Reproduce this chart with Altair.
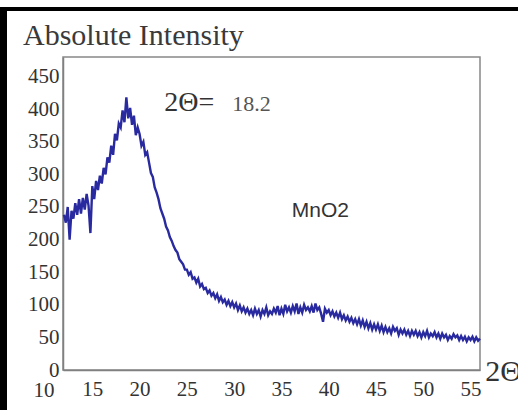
import altair as alt
import numpy as np
import pandas as pd

SERIF = "Liberation Serif"
SANS = "Liberation Sans"

# Diffraction pattern of MnO2, sampled every 0.2 degrees of 2-theta from 12.0 to 56.0
two_theta = np.round(np.arange(12.0, 56.0 + 1e-9, 0.2), 1)
intensity = [
    238, 226, 250, 200, 244,   # 12
    232, 256, 238, 262, 240,   # 13
    264, 246, 270, 252, 210,   # 14
    282, 262, 290, 276, 298,   # 15
    286, 310, 300, 326, 318,   # 16
    344, 330, 362, 352, 378,   # 17
    372, 398, 380, 418, 386,   # 18
    402, 376, 390, 360, 372,   # 19
    362, 344, 350, 330, 334,   # 20
    318, 302, 296, 280, 272,   # 21
    262, 248, 240, 232, 220,   # 22
    214, 204, 198, 190, 184,   # 23
    180, 170, 166, 162, 154,   # 24
    154, 146, 150, 140, 142,   # 25
    134, 140, 128, 132, 124,   # 26
    126, 118, 122, 114, 118,   # 27
    110, 116, 106, 112, 104,   # 28
    108, 100, 106, 98, 104,    # 29
    96, 102, 92, 99, 90,       # 30
    96, 88, 94, 86, 92,        # 31
    84, 94, 86, 92, 82,        # 32
    92, 86, 96, 84, 90,        # 33
    86, 94, 88, 98, 84,        # 34
    94, 86, 100, 90, 96,       # 35
    88, 98, 90, 102, 86,       # 36
    96, 88, 100, 92, 96,       # 37
    90, 98, 88, 102, 92,       # 38
    96, 86, 74, 94, 88,        # 39
    92, 84, 90, 82, 88,        # 40
    80, 88, 78, 84, 76,        # 41
    82, 74, 80, 72, 78,        # 42
    70, 78, 68, 76, 66,        # 43
    74, 64, 72, 62, 70,        # 44
    62, 70, 60, 68, 58,        # 45
    66, 58, 64, 56, 66,        # 46
    60, 64, 54, 62, 56,        # 47
    62, 54, 60, 52, 60,        # 48
    54, 60, 52, 58, 50,        # 49
    58, 52, 60, 50, 56,        # 50
    52, 58, 50, 56, 48,        # 51
    56, 50, 54, 46, 52,        # 52
    48, 55, 50, 53, 46,        # 53
    52, 46, 51, 44, 50,        # 54
    46, 51, 44, 50, 45,        # 55
    48,                        # 56
]

x_ticks = [15, 20, 25, 30, 35, 40, 45, 50, 55]
y_ticks = [0, 50, 100, 150, 200, 250, 300, 350, 400, 450]

pattern = pd.DataFrame({"two_theta": two_theta, "intensity": intensity})

x_scale = alt.Scale(domain=[11.9, 56.0], nice=False, zero=False)
y_scale = alt.Scale(domain=[0, 480], nice=False)

axis_common = dict(
    title=None, grid=False, ticks=False,
    labelFont=SERIF, labelFontSize=21, labelColor="#333333",
    domainColor="#808080", domainWidth=1.5,
    labelFlush=False, labelOverlap=False, labelBound=False,
)
x_axis = alt.Axis(values=x_ticks, labelPadding=8, **axis_common)
y_axis = alt.Axis(values=y_ticks, labelPadding=4, **axis_common)

line = alt.Chart(pattern).mark_line(color="#2a2aa0", strokeWidth=2.4).encode(
    x=alt.X("two_theta:Q", scale=x_scale, axis=x_axis),
    y=alt.Y("intensity:Q", scale=y_scale, axis=y_axis),
)

# Annotations placed in data coordinates
peak_lbl = pd.DataFrame({"two_theta": [22.6], "intensity": [410], "text": ["2Θ="]})
peak_val = pd.DataFrame({"two_theta": [29.8], "intensity": [408], "text": ["18.2"]})
sample_lbl = pd.DataFrame({"two_theta": [36.1], "intensity": [244], "text": ["MnO2"]})
axis_lbl = pd.DataFrame({"two_theta": [56.55], "intensity": [-3], "text": ["2Θ"]})
# first x tick label sits left of where the scan begins
start_lbl = pd.DataFrame({"two_theta": [9.9], "intensity": [-15], "text": ["10"]})

def note(df, font, size, color="#333333", align="left", baseline="middle"):
    return alt.Chart(df).mark_text(
        font=font, fontSize=size, color=color, align=align, baseline=baseline
    ).encode(
        x=alt.X("two_theta:Q", scale=x_scale, axis=x_axis),
        y=alt.Y("intensity:Q", scale=y_scale, axis=y_axis),
        text="text:N",
    )

notes = (
    note(peak_lbl, SERIF, 28)
    + note(peak_val, SERIF, 22, "#555555")
    + note(sample_lbl, SANS, 21)
    + note(axis_lbl, SERIF, 30)
    + note(start_lbl, SERIF, 21, align="center", baseline="top")
)

# Page border strokes
border = pd.DataFrame({"k": [0]})
left_bar = alt.Chart(border).mark_rect(color="black").encode(
    x=alt.value(-63), x2=alt.value(-56), y=alt.value(-50), y2=alt.value(353)
)
top_bar = alt.Chart(border).mark_rect(color="black").encode(
    x=alt.value(-63), x2=alt.value(455), y=alt.value(-50), y2=alt.value(-46)
)

chart = (
    alt.layer(left_bar, top_bar, line, notes)
    .properties(
        width=417,
        height=313,
        padding={"left": 63, "top": 57, "right": 38, "bottom": 40},
        autosize=alt.AutoSizeParams(type="none"),
        background="white",
        title=alt.TitleParams(
            "Absolute Intensity", anchor="start", frame="group", font=SERIF,
            fontSize=30, fontWeight="normal", color="#3a3a3a", dx=-40,
            offset=-44,
        ),
    )
    .configure_view(stroke="#888888", strokeWidth=1.5)
)

chart.save("out.html", embed_options={"renderer": "svg", "actions": False})
